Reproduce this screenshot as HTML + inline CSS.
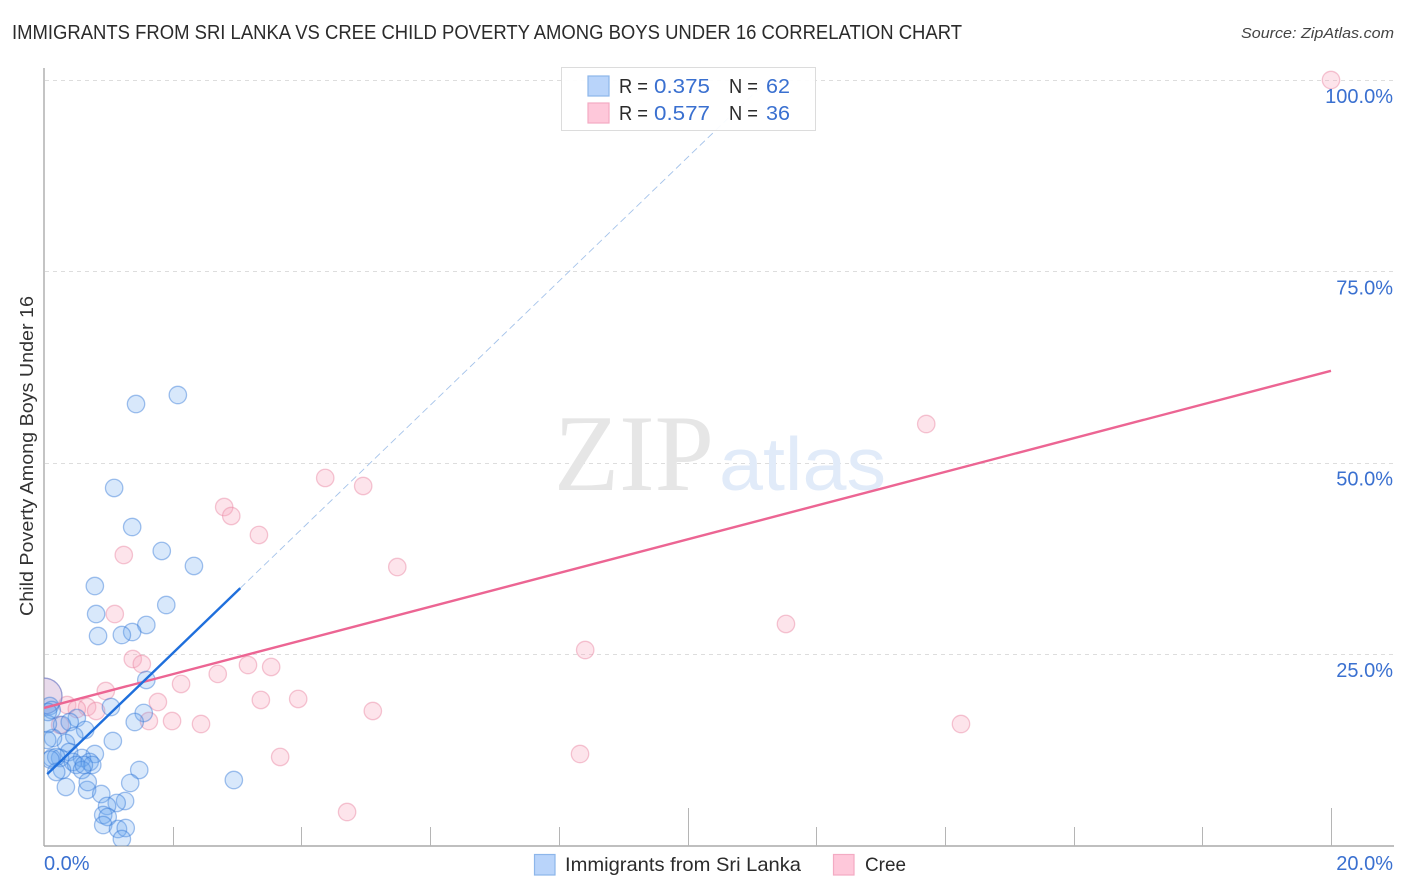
<!DOCTYPE html>
<html lang="en">
<head>
<meta charset="utf-8">
<title>Immigrants from Sri Lanka vs Cree Child Poverty Correlation Chart</title>
<style>
html,body{margin:0;padding:0;background:#fff;width:1406px;height:892px;overflow:hidden}
svg{display:block;font-family:"Liberation Sans",sans-serif}
</style>
</head>
<body>
<svg id="chart" width="1406" height="892" viewBox="0 0 1406 892" xmlns="http://www.w3.org/2000/svg">
  <defs>
    <clipPath id="plot-clip"><rect x="44" y="60" width="1362" height="786"/></clipPath>
  </defs>
  <text x="12" y="39" font-size="20" fill="#2b2b2b" textLength="950" lengthAdjust="spacingAndGlyphs">IMMIGRANTS FROM SRI LANKA VS CREE CHILD POVERTY AMONG BOYS UNDER 16 CORRELATION CHART</text>
  <text x="1394" y="38" font-size="15" font-style="italic" fill="#444" text-anchor="end" textLength="153" lengthAdjust="spacingAndGlyphs">Source: ZipAtlas.com</text>
  <text transform="translate(33,456) rotate(-90)" font-size="18" fill="#333" text-anchor="middle" textLength="320" lengthAdjust="spacingAndGlyphs">Child Poverty Among Boys Under 16</text>
  <g id="grid"></g>
  <g>
    <text x="554" y="490" font-family="'Liberation Serif',serif" font-size="109" fill="#e6e6e6" textLength="160" lengthAdjust="spacingAndGlyphs">ZIP</text>
    <text x="719" y="490" font-size="75" fill="#e1ebf9" textLength="167" lengthAdjust="spacingAndGlyphs">atlas</text>
  </g>
  <g id="axes"></g>
  <g id="points" clip-path="url(#plot-clip)"></g>
  <g id="trends"></g>
  <g id="labels"></g>

  <g>
    <rect x="561.5" y="67.5" width="254" height="63" fill="#fff" fill-opacity="0.93" stroke="#dcdcdc" stroke-width="1"/>
    <rect x="588" y="76" width="21" height="20" fill="#b9d4fa" stroke="#8db6ea" stroke-width="1.2"/>
    <rect x="588" y="103" width="21" height="20" fill="#fec8da" stroke="#f3abc3" stroke-width="1.2"/>
    <text x="619" y="93" font-size="20.5" fill="#2b2b2b" textLength="29" lengthAdjust="spacingAndGlyphs">R =</text>
    <text x="654" y="93" font-size="20.5" fill="#3a70d0" textLength="56" lengthAdjust="spacingAndGlyphs">0.375</text>
    <text x="729" y="93" font-size="20.5" fill="#2b2b2b" textLength="29" lengthAdjust="spacingAndGlyphs">N =</text>
    <text x="766" y="93" font-size="20.5" fill="#3a70d0" textLength="24" lengthAdjust="spacingAndGlyphs">62</text>
    <text x="619" y="120" font-size="20.5" fill="#2b2b2b" textLength="29" lengthAdjust="spacingAndGlyphs">R =</text>
    <text x="654" y="120" font-size="20.5" fill="#3a70d0" textLength="56" lengthAdjust="spacingAndGlyphs">0.577</text>
    <text x="729" y="120" font-size="20.5" fill="#2b2b2b" textLength="29" lengthAdjust="spacingAndGlyphs">N =</text>
    <text x="766" y="120" font-size="20.5" fill="#3a70d0" textLength="24" lengthAdjust="spacingAndGlyphs">36</text>
  </g>

  <g>
    <rect x="534.5" y="854.5" width="20.5" height="20.5" fill="#b9d4fa" stroke="#8db6ea" stroke-width="1.2"/>
    <text x="565" y="871" font-size="19.5" fill="#2b2b2b" textLength="236" lengthAdjust="spacingAndGlyphs">Immigrants from Sri Lanka</text>
    <rect x="833.5" y="854.5" width="20.5" height="20.5" fill="#fec8da" stroke="#f3abc3" stroke-width="1.2"/>
    <text x="865" y="871" font-size="19.5" fill="#2b2b2b" textLength="41" lengthAdjust="spacingAndGlyphs">Cree</text>
  </g>
</svg>
<script>
// Chart data (all values in percent)
const xTickValues = [0, 2, 4, 6, 8, 10, 12, 14, 16, 18, 20];
const xLabelValues = ['0.0%', '20.0%'];
const yTickValues = [25, 50, 75, 100];
const yTickLabels = ['25.0%', '50.0%', '75.0%', '100.0%'];

const sriLankaX = [0, 2.08, 1.43, 1.09, 1.37, 1.83, 2.33, 0.79, 1.90, 0.81, 1.59, 1.37, 1.21, 0.84, 1.59, 1.04, 1.55, 1.41, 0.51, 0.28, 0.40, 0.64, 0.47, 0.34, 0.14, 1.07, 0.79, 0.39, 0.59, 0.25, 0.12, 0.19, 0.45, 0.71, 0.75, 0.50, 0.59, 0.28, 0.19, 1.48, 1.34, 2.95, 0.34, 0.67, 0.68, 0.89, 1.26, 1.13, 0.98, 0.92, 0.99, 0.92, 1.15, 1.27, 1.21, 0.09, 0.12, 0.06, 0.05, 0.06, 0.62, 0.10];
const sriLankaY = [19.5, 58.84, 57.66, 46.69, 41.59, 38.46, 36.5, 33.88, 31.4, 30.22, 28.79, 27.87, 27.48, 27.35, 21.6, 18.07, 17.29, 16.11, 16.63, 15.72, 16.11, 15.07, 14.28, 13.37, 14.02, 13.63, 11.93, 12.19, 11.41, 11.41, 11.41, 11.54, 10.89, 10.89, 10.5, 10.5, 9.84, 9.84, 9.58, 9.84, 8.14, 8.53, 7.62, 7.23, 8.27, 6.7, 5.79, 5.53, 5.14, 3.96, 3.7, 2.65, 2.13, 2.26, 0.82, 18.2, 17.68, 15.85, 13.76, 17.42, 10.5, 11.2];

const creeX = [0, 20, 13.71, 4.37, 4.96, 2.80, 2.91, 3.34, 1.24, 5.49, 1.10, 11.53, 8.41, 1.38, 1.52, 3.17, 3.53, 2.13, 2.70, 0.96, 3.37, 3.95, 1.77, 0.36, 0.67, 0.81, 0.51, 0.25, 5.11, 1.63, 1.99, 2.44, 14.25, 3.67, 8.33, 4.71];
const creeY = [19.5, 100, 55.05, 48.0, 46.95, 44.2, 43.03, 40.55, 37.93, 36.36, 30.22, 28.92, 25.52, 24.34, 23.69, 23.56, 23.3, 21.08, 22.39, 20.16, 18.99, 19.12, 18.72, 18.33, 18.07, 17.55, 17.81, 15.72, 17.55, 16.24, 16.24, 15.85, 15.85, 11.54, 11.93, 4.35];

const sriLankaTrendX = [0.05, 3.05];
const sriLankaTrendY = [9.3, 33.6];
const sriLankaProjectionX = [3.05, 11.25];
const sriLankaProjectionY = [33.6, 100];
const creeTrendX = [0, 20];
const creeTrendY = [17.95, 62];

// Axis functions
function xScale(v) { return 44 + v * 64.35; }
function yScale(v) { return 845.3 - v * 7.653; }

const NS = 'http://www.w3.org/2000/svg';
function make(tag, attrs, parent) {
  const el = document.createElementNS(NS, tag);
  for (const k in attrs) el.setAttribute(k, attrs[k]);
  parent.appendChild(el);
  return el;
}

const grid = document.getElementById('grid');
const axes = document.getElementById('axes');
const labels = document.getElementById('labels');
const points = document.getElementById('points');
const trends = document.getElementById('trends');

yTickValues.forEach(function (v, i) {
  const y = Math.round(yScale(v)) + 0.5;
  const line = make('line', {x1: 45, x2: 1394, y1: y, y2: y, stroke: '#dddddd', 'stroke-width': 1, 'stroke-dasharray': '4 4'}, grid);
  
  
  const text = make('text', {x: 1393, y: yScale(v) + 23, 'font-size': 20, fill: '#3a70d0', 'text-anchor': 'end'}, labels);
  text.textContent = yTickLabels[i];
  
  
});

const yAxis = make('line', {x1: 44, x2: 44, y1: 68, y2: 846, stroke: '#aaaaaa', 'stroke-width': 1.4}, axes);


const xAxis = make('line', {x1: 44, x2: 1394, y1: 846, y2: 846, stroke: '#aaaaaa', 'stroke-width': 1.4}, axes);



xTickValues.forEach(function (v) {
  if (v === 0) return;
  const x = Math.round(xScale(v)) + 0.5;
  const top = v % 10 === 0 ? 808 : 827;
  const tick = make('line', {x1: x, x2: x, y1: top, y2: 846, stroke: '#b5b5b5', 'stroke-width': 1}, axes);
  
  
});

const xLabelStart = make('text', {x: 44, y: 870, 'font-size': 20, fill: '#3a70d0'}, labels);
xLabelStart.textContent = xLabelValues[0];


const xLabelEnd = make('text', {x: 1393, y: 870, 'font-size': 20, fill: '#3a70d0', 'text-anchor': 'end'}, labels);
xLabelEnd.textContent = xLabelValues[1];



function radiusFor(i) { return i === 0 ? 18 : 8.7; }

creeX.forEach(function (v, i) {
  const c = make('circle', {cx: xScale(v), cy: yScale(creeY[i]), r: radiusFor(i), fill: 'rgba(250,165,190,0.3)', stroke: 'rgba(232,130,160,0.45)', 'stroke-width': 1.3}, points);
  
  
});

sriLankaX.forEach(function (v, i) {
  const c = make('circle', {cx: xScale(v), cy: yScale(sriLankaY[i]), r: radiusFor(i), fill: 'rgba(105,165,240,' + (i === 0 ? 0.14 : 0.26) + ')', stroke: 'rgba(50,120,215,0.45)', 'stroke-width': 1.3}, points);
  
  
});

const projection = make('line', {x1: xScale(sriLankaProjectionX[0]), y1: yScale(sriLankaProjectionY[0]), x2: xScale(sriLankaProjectionX[1]), y2: yScale(sriLankaProjectionY[1]), stroke: '#a5c3ea', 'stroke-width': 0.9, 'stroke-dasharray': '7 4'}, trends);


const creeTrend = make('line', {x1: xScale(creeTrendX[0]), y1: yScale(creeTrendY[0]), x2: xScale(creeTrendX[1]), y2: yScale(creeTrendY[1]), stroke: '#ec6593', 'stroke-width': 2.4}, trends);


const sriTrend = make('line', {x1: xScale(sriLankaTrendX[0]), y1: yScale(sriLankaTrendY[0]), x2: xScale(sriLankaTrendX[1]), y2: yScale(sriLankaTrendY[1]), stroke: '#1f6fdc', 'stroke-width': 2.4}, trends);


</script>
</body>
</html>
